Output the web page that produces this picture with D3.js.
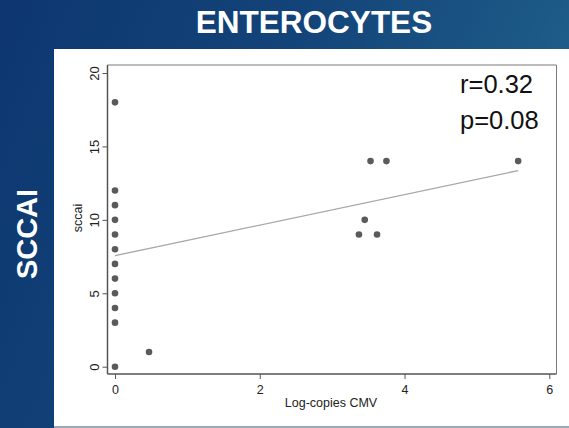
<!DOCTYPE html>
<html>
<head>
<meta charset="utf-8">
<script src="https://cdn.jsdelivr.net/npm/d3@7"></script>
<style>
  html, body { margin: 0; padding: 0; background: #0f3a73; }
  svg { display: block; }
</style>
</head>
<body>
<script>
// Observations: log-copies CMV (x) vs SCCAI score (y)
const cmvLog = [0, 0, 0, 0, 0, 0, 0, 0, 0, 0, 0, 0, 0.47, 3.53, 3.75, 5.57, 3.45, 3.37, 3.62];
const sccai  = [18, 12, 11, 10, 9, 8, 7, 6, 5, 4, 3, 0, 1, 14, 14, 14, 10, 9, 9];

// Fitted line (intercept, slope) and reported statistics
const fitIntercept = 7.56;
const fitSlope = 1.04;
const statLines = ["r=0.32", "p=0.08"];

const xTicks = [0, 2, 4, 6];
const yTicks = [0, 5, 10, 15, 20];

const W = 569, H = 428;
const svg = d3.select("body").append("svg").attr("width", W).attr("height", H);

// Slide background
const defs = svg.append("defs");
const grad = defs.append("linearGradient").attr("id", "bg")
  .attr("x1", "0").attr("y1", "0").attr("x2", "1").attr("y2", "0.3");
grad.append("stop").attr("offset", "0").attr("stop-color", "#0d3670");
grad.append("stop").attr("offset", "0.5").attr("stop-color", "#134479");
grad.append("stop").attr("offset", "1").attr("stop-color", "#1f5f8b");
svg.append("rect").attr("width", W).attr("height", H).attr("fill", "url(#bg)");

// Title and side label
svg.append("text").attr("x", 314).attr("y", 33).attr("text-anchor", "middle")
  .attr("font-family", "Liberation Sans, Arial, sans-serif").attr("font-weight", "bold")
  .attr("font-size", 31.5).attr("fill", "#fff").text("ENTEROCYTES");
svg.append("text").attr("transform", "translate(37,234) rotate(-90)").attr("text-anchor", "middle")
  .attr("font-family", "Liberation Sans, Arial, sans-serif").attr("font-weight", "bold")
  .attr("font-size", 29).attr("fill", "#fff").text("SCCAI");

// White chart panel
svg.append("rect").attr("x", 54).attr("y", 49).attr("width", W - 54).attr("height", 377).attr("fill", "#fff");
svg.append("rect").attr("x", 54).attr("y", 426).attr("width", W - 54).attr("height", 2).attr("fill", "#9aaabb");

// Scales
const x = d3.scaleLinear().domain([0, 6]).range([115, 549.3]);
const y = d3.scaleLinear().domain([0, 20]).range([366.7, 73]);

const plot = { left: 107.5, right: 556.5, top: 65, bottom: 374 };
const font = "Liberation Sans, Arial, sans-serif";

// Plot region outline (top and right)
svg.append("path")
  .attr("d", `M${plot.left},${plot.top}H${plot.right}V${plot.bottom}`)
  .attr("fill", "none").attr("stroke", "#7a7a7a").attr("stroke-width", 1);

// Y axis
const yAxis = d3.axisLeft(y).tickValues(yTicks).tickSize(5).tickPadding(3).tickFormat(d3.format("d"));
const gy = svg.append("g").attr("transform", `translate(${plot.left},0)`).call(yAxis);
gy.select(".domain").attr("d", `M0,${plot.top}V${plot.bottom}`).attr("stroke", "#555").attr("stroke-width", 1.5);
gy.selectAll(".tick line").attr("stroke", "#555");
gy.selectAll(".tick text")
  .attr("font-family", font).attr("font-size", 13).attr("fill", "#222")
  .attr("text-anchor", "middle").attr("x", null).attr("dy", null)
  .attr("transform", "translate(-13,0) rotate(-90)").attr("dy", "0.35em");

// X axis
const xAxis = d3.axisBottom(x).tickValues(xTicks).tickSize(5).tickPadding(6).tickFormat(d3.format("d"));
const gx = svg.append("g").attr("transform", `translate(0,${plot.bottom})`).call(xAxis);
gx.select(".domain").attr("d", `M${plot.left},0H${plot.right}`).attr("stroke", "#555").attr("stroke-width", 1.5);
gx.selectAll(".tick line").attr("stroke", "#555");
gx.selectAll(".tick text").attr("font-family", font).attr("font-size", 12.5).attr("fill", "#222");

// Axis titles
svg.append("text").attr("x", 331).attr("y", 407).attr("text-anchor", "middle")
  .attr("font-family", font).attr("font-size", 12.5).attr("fill", "#222").text("Log-copies CMV");
svg.append("text").attr("transform", "translate(82,218) rotate(-90)").attr("text-anchor", "middle")
  .attr("font-family", font).attr("font-size", 12.5).attr("fill", "#222").text("sccai");

// Fitted line across the observed x range
const xr = d3.extent(cmvLog);
svg.append("line")
  .attr("x1", x(xr[0])).attr("y1", y(fitIntercept + fitSlope * xr[0]))
  .attr("x2", x(xr[1])).attr("y2", y(fitIntercept + fitSlope * xr[1]))
  .attr("stroke", "#a8a8a8").attr("stroke-width", 1.3);

// Points
svg.append("g").selectAll("circle").data(d3.range(cmvLog.length)).join("circle")
  .attr("cx", i => x(cmvLog[i])).attr("cy", i => y(sccai[i])).attr("r", 3.3)
  .attr("fill", "#5a5a5a");

// Statistics annotation
svg.append("g").selectAll("text").data(statLines).join("text")
  .attr("x", 460).attr("y", (d, i) => 93 + i * 36)
  .attr("font-family", font).attr("font-size", 25.5).attr("fill", "#111").text(d => d);
</script>
</body>
</html>
